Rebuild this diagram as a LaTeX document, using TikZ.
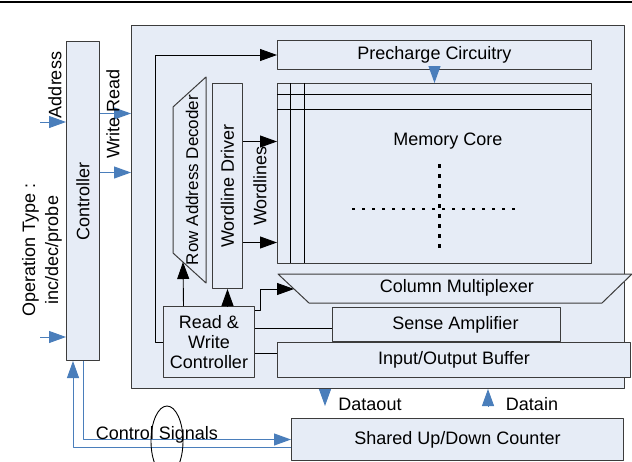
\documentclass[tikz,border=0pt]{standalone}
\usepackage{fontspec}
\setmainfont{Liberation Sans}
\usetikzlibrary{arrows.meta}
\definecolor{blockfill}{RGB}{230,236,246}
\definecolor{blockline}{RGB}{60,60,60}
\definecolor{sigblue}{RGB}{74,126,187}
\begin{document}
\begin{tikzpicture}[x=1pt, y=-1pt, font=\fontsize{18}{20}\selectfont, line join=round,
	block/.style={draw=blockline, fill=blockfill, line width=1pt, inner sep=0pt, anchor=north west},
	blk/.style={-{Triangle[length=17pt,width=12pt]}, line width=0.9pt},
	sig/.style={sigblue, -{Triangle[length=17pt,width=12pt]}, line width=1pt}]
	\useasboundingbox (0,0) rectangle (632,461);
	\draw[line width=1.5pt] (0,2) -- (632,2);
	\node[block, minimum width=493pt, minimum height=363pt] (big) at (131,25) {};
	\node[block, minimum width=33pt, minimum height=319pt, label={[rotate=90]center:Controller}] (ctrl) at (66,41) {};
	\node[block, minimum width=314pt, minimum height=29pt] (pre) at (277,40) {Precharge Circuitry};
	\node[block, minimum width=314pt, minimum height=180pt] (core) at (277,83) {};
	\draw[line width=0.9pt] (core.north west) ++(0,11) -- ++(314,0) ++(-314,15) -- ++(314,0);
	\draw[line width=0.9pt] (core.north west) ++(13,0) -- ++(0,180) ++(14,-180) -- ++(0,180);
	\node (mem) at (448,141) {Memory Core};
	\draw[line width=2.5pt, dash pattern=on 3pt off 7pt] (352,209) -- (516,209);
	\draw[line width=3pt, dash pattern=on 4pt off 6pt] (439,164) -- (439,250);
	\draw[draw=blockline, fill=blockfill, line width=1pt] (173,107) -- (206,77) -- (206,283) -- (173,253) -- cycle;
	\node[rotate=90, font=\fontsize{17}{20}\selectfont] (dec) at (192,180) {Row Address Decoder};
	\coordinate (dec in) at (183,262);
	\node[block, minimum width=30pt, minimum height=205pt, label={[rotate=90]center:Wordline Driver}] (drv) at (212,83) {};
	\node[rotate=90] (wl) at (260,186) {Wordlines};
	\draw[draw=blockline, fill=blockfill, line width=1pt] (278,274) -- (632,274) -- (602,303) -- (309,303) -- cycle;
	\node (mux) at (457,288) {Column Multiplexer};
	\coordinate (mux in) at (294,289);
	\node[block, minimum width=91pt, minimum height=71pt, align=center] (rw) at (163,306) {Read \&\\Write\\Controller};
	\node[block, minimum width=228pt, minimum height=34pt] (sa) at (332,307) {\hspace{18pt}Sense Amplifier};
	\node[block, minimum width=353pt, minimum height=35pt] (io) at (277,342) {Input/Output Buffer};
	\node[block, minimum width=332pt, minimum height=42pt] (cnt) at (291,418) {Shared Up/Down Counter};
	\draw[blk] ([yshift=44.5pt]drv.east) -- ([yshift=44.5pt]drv.east -| core.west);
	\draw[blk] ([yshift=-56.5pt]drv.east) -- ([yshift=-56.5pt]drv.east -| core.west);
	\draw[blk] (rw.west) -- ++(-8,0) |- (pre.west);
	\draw[blk] ([xshift=-25.5pt]rw.north) -- (dec in);
	\draw[blk] (drv.south |- rw.north) -- (drv.south);
	\draw[blk] ([yshift=-4pt]rw.north east) -- ++(5,0) |- (mux in);
	\draw[line width=0.9pt] ([yshift=13.5pt]rw.east) -- ([yshift=13.5pt]rw.east -| sa.west);
	\draw[line width=0.9pt] ([yshift=-11.5pt]rw.east) -- ([yshift=-11.5pt]rw.east -| io.west);
	\draw[sig] (pre.south) -- (core.north);
	\coordinate (addr in) at (40,122);
	\coordinate (op in) at (40,337);
	\draw[sig] (addr in) -- (addr in -| ctrl.west);
	\draw[sig] (op in) -- (op in -| ctrl.west);
	\node[rotate=90] (addr) at (55,85) {Address};
	\node[rotate=90, align=center, font=\fontsize{18}{23}\selectfont] (optype) at (42,250) {Operation Type :\\inc/dec/probe};
	\draw[sig] ([yshift=87.5pt]ctrl.east) -- ([yshift=87.5pt]ctrl.east -| big.west);
	\draw[sig] ([yshift=28.5pt]ctrl.east) -- ([yshift=28.5pt]ctrl.east -| big.west);
	\node[rotate=90] (wr) at (113,114) {Write Read};
	\coordinate (dout) at (325,406);
	\coordinate (din) at (488,406);
	\draw[sig] (dout |- big.south) -- (dout);
	\draw[sig] (din) -- (din |- big.south);
	\node (dout lbl) at (370,404) {Dataout};
	\node (din lbl) at (532,404) {Datain};
	\draw[sig] (ctrl.south) |- (cnt.west);
	\draw[sig] ([yshift=-8pt]cnt.west) -| ([xshift=-10pt]ctrl.south);
	\node (ctl sig) at (157,435) {Control Signals};
	\draw[line width=0.9pt] (167,441) ellipse (16 and 35);
\end{tikzpicture}
\end{document}
